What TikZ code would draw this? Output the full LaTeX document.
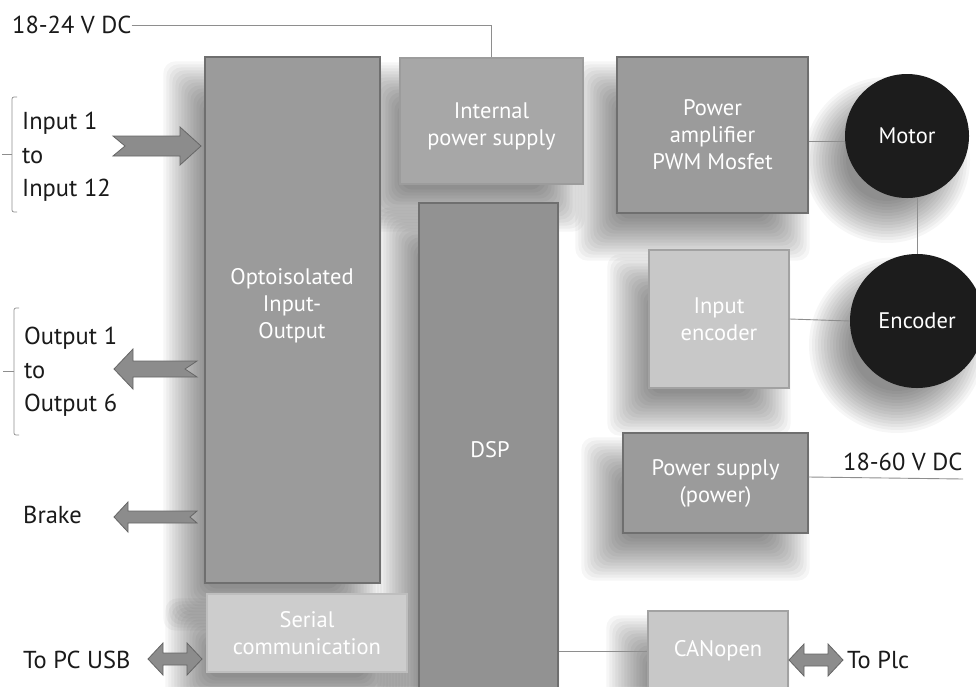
\documentclass[tikz,border=0pt]{standalone}
\usepackage{fontspec}
\setmainfont{PT Sans}
\usetikzlibrary{calc}
\pgfdeclarelayer{bg}
\pgfsetlayers{bg,main}
\definecolor{boxA}{HTML}{9B9B9B}
\definecolor{bdA}{HTML}{6F6F6F}
\definecolor{boxInt}{HTML}{A7A7A7}
\definecolor{bdInt}{HTML}{9C9C9C}
\definecolor{boxDSP}{HTML}{929292}
\definecolor{boxL}{HTML}{C8C8C8}
\definecolor{bdL}{HTML}{A2A2A2}
\definecolor{boxSer}{HTML}{CDCDCD}
\definecolor{bdSer}{HTML}{BEBEBE}
\definecolor{circ}{HTML}{1C1C1C}
\definecolor{arrfill}{HTML}{8C8C8C}
\definecolor{arrline}{HTML}{666666}
\definecolor{wire}{HTML}{8E8E8E}
\definecolor{txt}{HTML}{1A1A1A}
\begin{document}
\begin{tikzpicture}[x=1pt,y=-1pt,
  every node/.style={font=\fontsize{22.5}{27}\selectfont, inner sep=0pt, text=txt},
  outer/.style={font=\fontsize{24.5}{29}\selectfont},
  blk/.style={rectangle, line width=1.3pt, text=white, align=center},
  dark/.style={blk, fill=boxA, draw=bdA},
  light/.style={blk, fill=boxL, draw=bdL},
  ball/.style={circle, fill=circ, text=white},
  wireline/.style={draw=wire, line width=0.9pt},
  shdfill/.style={fill=black, opacity=0.034},
  lbl/.style={outer, anchor=west, align=left},
  pics/fatarrow/.style n args={5}{code={
    \filldraw[fill=arrfill, draw=arrline, line width=0.8pt, line join=miter]
      (0,0) -- (-#2,-#4) -- (-#2,-#3) -- (-#1,-#3) -- (-#1+#5,0) -- (-#1,#3)
      -- (-#2,#3) -- (-#2,#4) -- cycle;}},
  pics/dblarrow/.style n args={4}{code={
    \filldraw[fill=arrfill, draw=arrline, line width=0.8pt, line join=miter]
      (0,0) -- (#2,-#4) -- (#2,-#3) -- (#1-#2,-#3) -- (#1-#2,-#4) -- (#1,0)
      -- (#1-#2,#4) -- (#1-#2,#3) -- (#2,#3) -- (#2,#4) -- cycle;}}
]
\useasboundingbox (0,0) rectangle (976,686);

% blocks
\node[dark, minimum width=175, minimum height=526] (opto) at (292.5,320) {};
\node[blk, fill=boxInt, draw=bdInt, minimum width=183, minimum height=126] (intps) at (491.5,121) {};
\node[dark, fill=boxDSP, minimum width=139, minimum height=490] (dsp) at (488.5,448) {};
\node[dark, minimum width=191, minimum height=156] (pamp) at (712.5,135) {Power\\amplifier\\PWM Mosfet};
\node[light, minimum width=140, minimum height=138] (inenc) at (719,319) {Input\\encoder};
\node[dark, minimum width=185, minimum height=100] (psup) at (715.5,483) {Power supply\\(power)};
\node[light, minimum width=140, minimum height=80] (canopen) at (718,651) {CANopen};
\node[blk, fill=boxSer, draw=bdSer, minimum width=200, minimum height=78] (serial) at (307,633) {Serial\\communication};
\node[ball, minimum size=124] (motor) at (907,136) {Motor};
\node[ball, minimum size=134] (encoder) at (917,321) {Encoder};

% texts placed inside blocks
\node[text=white, align=center] (optoT) at (292,306) {Optoisolated\\Input-\\Output};
\node[text=white, align=center] (intpsT) at (491.5,126) {Internal\\power supply};
\node[text=white] (dspT) at (490,450) {DSP};

% white page and soft shadows (stacked translucent layers)
\begin{pgfonlayer}{bg}
\fill[white] (0,0) rectangle (976,686);
\foreach \n in {opto,intps,dsp,pamp,inenc,psup,canopen,serial}{
  \foreach \k in {-21,-18,...,21}{
    \fill[shdfill, rounded corners=12pt]
      ($(\n.north west)+(-20-\k,26-\k)$) rectangle ($(\n.south east)+(-20+\k,26+\k)$);
  }
}
\foreach \k in {-21,-18,...,21}{
  \fill[shdfill] ($(motor.center)+(-20,24)$) circle[radius=62+\k];
  \fill[shdfill] ($(encoder.center)+(-20,24)$) circle[radius=67+\k];
}
\end{pgfonlayer}

% external labels
\node[lbl] (v24) at (12,25) {18-24 V DC};
\node[lbl, font=\fontsize{24.5}{33.5}\selectfont] (inputs) at (22,157) {Input 1\\to\\Input 12};
\node[lbl, font=\fontsize{24.5}{33.5}\selectfont] (outputs) at (24,372) {Output 1\\to\\Output 6};
\node[lbl] (brake) at (23,515) {Brake};
\node[lbl] (usb) at (23,660) {To PC USB};
\node[lbl] (plc) at (847,660) {To Plc};
\node[lbl] (v60) at (843,462) {18-60 V DC};
\coordinate (v60end) at (963,479);

% connectors
\draw[wireline] (v24.east) -- (intps.north |- v24.east) -- (intps.north);
\draw[wireline] (pamp.east |- 0,141) -- (motor.west |- 0,141);
\draw[wireline] (encoder.north) -- (encoder.north |- motor.south);
\draw[wireline] (inenc.east) -- (encoder.west);
\draw[wireline] (psup.east |- 0,477) -- (v60end);
\draw[wireline] (dsp.east |- canopen.west) -- (canopen.west);

% brackets
\draw[wireline, line width=0.7pt, rounded corners=2pt] (17,97) -- (12,97) -- (12,212) -- (17,212);
\draw[wireline, line width=0.7pt] (12,154) -- (2,154);
\draw[wireline, line width=0.7pt, rounded corners=2pt] (19,308) -- (14,308) -- (14,435) -- (19,435);
\draw[wireline, line width=0.7pt] (14,371) -- (3,371);

% fat arrows
\pic at (201,146) {fatarrow={88}{21}{10}{19}{12}};
\pic[xscale=-1] at (114,369) {fatarrow={83}{19}{8}{20}{12}};
\pic[xscale=-1] at (114,517) {fatarrow={83}{14}{6}{15}{7}};
\pic at (148,659) {dblarrow={54}{15}{6}{16}};
\pic at (789,660) {dblarrow={54}{15}{6}{16}};
\end{tikzpicture}
\end{document}
